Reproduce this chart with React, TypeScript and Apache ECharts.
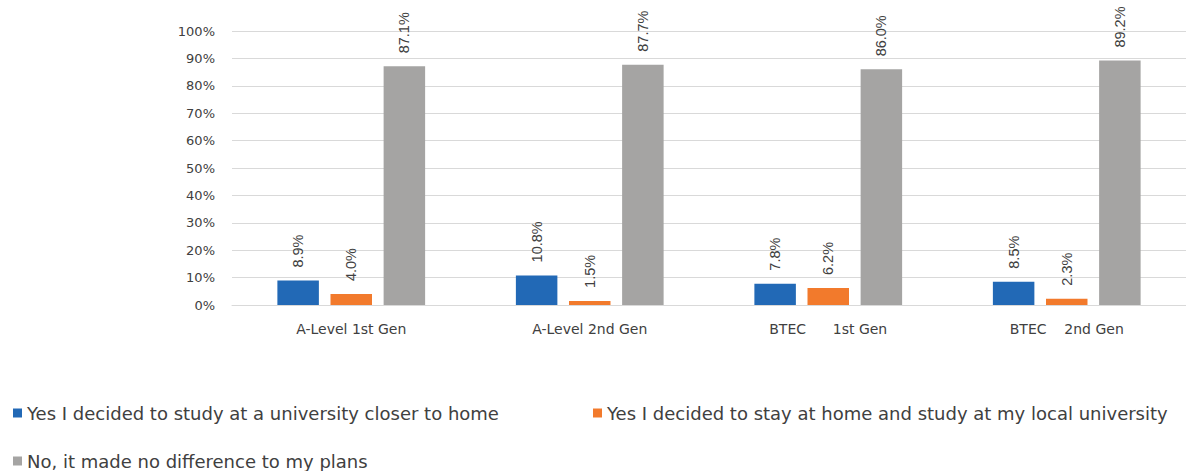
import React, { useEffect, useRef } from "react";
import * as echarts from "echarts";

const categories = ["A-Level 1st Gen", "A-Level 2nd Gen", "BTEC\u00a0\u00a0\u00a0\u00a0\u00a0\u00a01st Gen", "BTEC\u00a0\u00a0\u00a0\u00a02nd Gen"];
const seriesNames = [
  "Yes I decided to study at a university closer to home",
  "Yes I decided to stay at home and study at my local university",
  "No, it made no difference to my plans",
];
const closerToHome = [8.9, 10.8, 7.8, 8.5];
const stayAtHome = [4.0, 1.5, 6.2, 2.3];
const noDifference = [87.1, 87.7, 86.0, 89.2];
const yTicks = [0, 10, 20, 30, 40, 50, 60, 70, 80, 90, 100];

const colors = ["#2269b6", "#f27a2c", "#a5a4a3"];
const FONT = "'DejaVu Sans', Verdana, sans-serif";

export default function App() {
  const ref = useRef<HTMLDivElement>(null);
  useEffect(() => {
    const chart = echarts.init(ref.current!, null, { renderer: "svg" });
    const label = {
      show: true,
      position: "top",
      rotate: 90,
      align: "left",
      verticalAlign: "middle",
      distance: 13,
      color: "#404040",
      fontSize: 14.5,
      fontFamily: "Liberation Sans, Arial, sans-serif",
      formatter: (p: any) => p.value.toFixed(1) + "%",
    };
    const data = [closerToHome, stayAtHome, noDifference];
    chart.setOption({
      animation: false,
      color: colors,
      textStyle: { fontFamily: FONT },
      grid: { left: 232, right: -13, top: 31, bottom: 166, containLabel: false },
      xAxis: {
        type: "category",
        data: categories,
        axisLine: { lineStyle: { color: "#d9d9d9" } },
        axisTick: { show: false },
        axisLabel: { color: "#404040", fontSize: 14, margin: 17, fontFamily: FONT },
      },
      yAxis: {
        type: "value",
        min: yTicks[0],
        max: yTicks[yTicks.length - 1],
        interval: 10,
        axisLine: { show: false },
        axisTick: { show: false },
        splitLine: { lineStyle: { color: "#d9d9d9" } },
        axisLabel: { color: "#404040", fontSize: 13, margin: 17, formatter: "{value}%", fontFamily: FONT },
      },
      legend: seriesNames.map((n, i) => ({
        data: [n],
        left: i === 1 ? 588 : 8,
        top: i === 2 ? 447 : 399,
        itemWidth: 9,
        itemHeight: 9,
        itemGap: 4,
        icon: "rect",
        textStyle: { color: "#404040", fontSize: 18, fontFamily: FONT },
        selectedMode: false,
      })),
      series: seriesNames.map((n, i) => ({
        name: n,
        type: "bar",
        data: data[i],
        barWidth: "17.4%",
        barGap: "28%",
        label,
      })),
    });
    return () => chart.dispose();
  }, []);
  return <div ref={ref} style={{ width: 1186, height: 471, position: "absolute", left: 0, top: 0 }} />;
}
